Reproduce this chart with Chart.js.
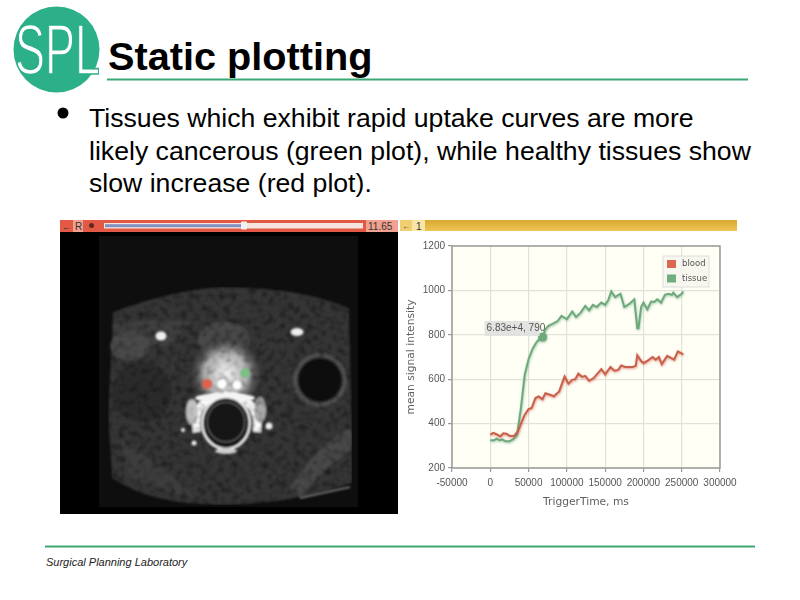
<!DOCTYPE html>
<html>
<head>
<meta charset="utf-8">
<title>Static plotting</title>
<script src="https://cdn.jsdelivr.net/npm/chart.js@4"></script>
<style>
html, body { margin: 0; padding: 0; background: #fff; }
body { position: relative; width: 800px; height: 600px; overflow: hidden; font-family: "Liberation Sans", Arial, sans-serif; color: #000; }
#art { position: absolute; left: 0; top: 0; }
.title { position: absolute; left: 108px; top: 34px; font-size: 39.7px; font-weight: bold; line-height: 44px; white-space: nowrap; }
.bullet { position: absolute; left: 89px; top: 102px; font-size: 26.65px; line-height: 32.5px; white-space: nowrap; }
.footer { position: absolute; left: 46px; top: 556px; font-size: 11px; font-style: italic; white-space: nowrap; color: #222; }
#chartBox { position: absolute; left: 400px; top: 235px; width: 345px; height: 280px; filter: blur(0.35px); }
</style>
</head>
<body>
<svg id="art" width="800" height="600" viewBox="0 0 800 600">
  <defs>
    <filter id="soft"><feGaussianBlur stdDeviation="0.9"/></filter>
    <filter id="softer"><feGaussianBlur stdDeviation="3.5"/></filter>
    <filter id="mottled" x="0" y="0" width="100%" height="100%">
      <feTurbulence type="fractalNoise" baseFrequency="0.16" numOctaves="3" seed="7" result="n"/>
      <feColorMatrix in="n" type="matrix" values="1.7 0 0 0 0.05  1.7 0 0 0 0.05  1.7 0 0 0 0.05  0 0 0 0 1" result="g"/>
      <feComposite in="SourceGraphic" in2="g" operator="arithmetic" k1="1" k2="0" k3="0" k4="0" result="c"/>
      <feComposite in="c" in2="SourceAlpha" operator="in" result="m"/>
      <feGaussianBlur in="m" stdDeviation="1.1"/>
    </filter>
    <radialGradient id="glow">
      <stop offset="0" stop-color="#f4f4f4"/>
      <stop offset="0.6" stop-color="#b0b0b0"/>
      <stop offset="1" stop-color="#3a3a3a" stop-opacity="0.2"/>
    </radialGradient>
    <linearGradient id="gold" x1="0" y1="0" x2="0" y2="1">
      <stop offset="0" stop-color="#d9a92f"/>
      <stop offset="1" stop-color="#eec558"/>
    </linearGradient>
  </defs>
  <!-- logo -->
  <circle cx="56.5" cy="49.5" r="43" fill="#2bb08a"/>
  <text x="15" y="74" font-family="Liberation Sans" font-size="71" fill="#fff" stroke="#2bb08a" stroke-width="1.6" textLength="85" lengthAdjust="spacingAndGlyphs">SPL</text>
  <rect x="107" y="78.5" width="641" height="2" fill="#3aa873"/>
  <circle cx="63" cy="113" r="5.5" fill="#000"/>
  <rect x="45" y="545.5" width="710" height="2" fill="#3aa873"/>

  <!-- image viewer -->
  <rect x="60" y="220" width="338" height="12" fill="#e25a45"/>
  <rect x="60" y="232" width="338" height="282" fill="#000"/>
  <rect x="366" y="220" width="32" height="12" fill="#f2a08f"/>
  <text x="368" y="229.8" font-family="Liberation Sans" font-size="10" fill="#333">11.65</text>
  <text x="62" y="229.5" font-family="Liberation Sans" font-size="9" fill="#333">←</text>
  <rect x="73" y="220" width="10" height="12" fill="#f2a08f"/>
  <text x="75" y="229.8" font-family="Liberation Sans" font-size="10" fill="#333">R</text>
  <circle cx="91.5" cy="225.5" r="2.5" fill="#5c2a20"/>
  <rect x="104" y="223" width="259" height="5.5" fill="#f6e4df"/>
  <rect x="105" y="224.2" width="139" height="3" fill="#7f8fc0"/>
  <rect x="241" y="221.5" width="6" height="8" rx="1" fill="#f1f1f1"/>

  <rect x="99" y="236" width="259" height="271" fill="#0e0e0e"/>
  <g filter="url(#mottled)">
    <path d="M113 312 Q170 290 222 287 Q300 287 349 308 L352 428 L352 483 Q290 505 222 505 Q150 505 112 478 L108 415 Z" fill="#343434"/>
    <path d="M112 325 Q150 318 190 322 L170 345 L120 350 Z" fill="#404040"/>
    <circle cx="142" cy="392" r="30" fill="#2c2c2c"/>
    <ellipse cx="130" cy="346" rx="20" ry="14" fill="#4a4a4a"/>
    <circle cx="320" cy="380" r="27" fill="#505050"/>
    <path d="M290 488 Q320 440 352 428 L352 450 Q320 470 300 498 Z" fill="#484848"/>
    <path d="M120 440 Q170 470 198 500 L130 478 Z" fill="#3e3e3e"/>
    <ellipse cx="224" cy="340" rx="26" ry="18" fill="#484848"/>
    <ellipse cx="226" cy="374" rx="36" ry="36" fill="url(#glow)"/>
    <path d="M197 432 Q191 398 226 396 Q261 398 257 432" fill="none" stroke="#ffffff" stroke-width="8"/>
    <ellipse cx="192" cy="412" rx="6" ry="13" fill="#c4c4c4"/>
    <ellipse cx="260" cy="410" rx="6" ry="13" fill="#aaa"/>
  </g>
  <circle cx="320" cy="380" r="22" fill="#0c0c0c" filter="url(#soft)"/>
  <path d="M300 498 L350 487" stroke="#8a8a8a" stroke-width="1.5" filter="url(#soft)"/>
  <g filter="url(#soft)">
    <ellipse cx="225" cy="398" rx="30" ry="5" fill="#f4f4f4"/>
    <circle cx="222" cy="384" r="4.5" fill="#fff"/>
    <circle cx="237" cy="385" r="4.5" fill="#fff"/>
    <ellipse cx="226" cy="423" rx="24" ry="26" fill="#0f0f0f" stroke="#f6f6f6" stroke-width="2.5"/>
    <ellipse cx="226" cy="422" rx="19" ry="20" fill="#141414" stroke="#5c5c5c" stroke-width="1.5"/>
    <ellipse cx="226" cy="451" rx="11" ry="3" fill="#cfcfcf"/>
    <ellipse cx="161" cy="336" rx="5.5" ry="4.5" fill="#eee"/>
    <ellipse cx="297" cy="332" rx="6.5" ry="4" fill="#eee"/>
    <circle cx="269" cy="426" r="3.5" fill="#eee"/>
    <circle cx="183" cy="430" r="2" fill="#eee"/>
    <circle cx="194" cy="443" r="2.5" fill="#eee"/>
    <circle cx="207" cy="384" r="5" fill="#e0604a"/>
    <circle cx="245" cy="373" r="5" fill="#7cbf84"/>
  </g>

  <!-- chart panel header -->
  <rect x="400" y="220" width="337" height="11" fill="url(#gold)"/>
  <rect x="400" y="220" width="12" height="11" fill="#f0cf72"/>
  <rect x="412" y="220" width="13" height="11" fill="#f9e6a6"/>
  <text x="402" y="229" font-family="Liberation Sans" font-size="8" fill="#333">←</text>
  <text x="416" y="229.5" font-family="Liberation Sans" font-size="10" fill="#333">1</text>
</svg>

<div class="title">Static plotting</div>
<div class="bullet">Tissues which exhibit rapid uptake curves are more<br>likely cancerous (green plot), while healthy tissues show<br>slow increase (red plot).</div>
<div class="footer">Surgical Planning Laboratory</div>
<div id="chartBox"><canvas id="chart" width="345" height="280"></canvas></div>

<script>
// Values
const tissueTimes = [0, 5000, 8000, 12000, 16000, 20000, 25000, 30000, 35000, 40000, 45000, 50000, 55000, 60000, 65000, 68300, 72000, 76000, 82000, 88000, 93000, 100000, 107000, 112000, 118000, 124000, 129000, 134000, 139000, 145000, 150000, 154000, 158000, 163000, 170000, 175000, 182000, 188000, 192000, 193500, 197000, 200000, 205000, 210000, 214000, 218000, 223000, 228000, 233000, 237000, 239000, 244000, 250000, 252000];
const tissueValues = [325, 325, 332, 325, 328, 320, 320, 330, 350, 470, 620, 690, 735, 765, 785, 790, 825, 840, 850, 862, 885, 870, 905, 880, 900, 930, 910, 935, 925, 945, 935, 955, 995, 970, 985, 925, 940, 960, 830, 830, 925, 945, 915, 950, 948, 960, 945, 980, 985, 980, 990, 970, 985, 995];
const bloodTimes = [0, 4000, 8000, 13000, 17000, 21000, 26000, 31000, 36000, 40000, 45000, 50000, 54000, 59000, 63000, 68000, 72000, 78000, 83000, 90000, 97000, 102000, 107000, 111000, 115000, 120000, 124000, 129000, 135000, 140000, 145000, 150000, 157000, 162000, 167000, 171000, 176000, 186000, 190000, 192000, 197000, 200000, 206000, 212000, 216000, 220000, 224000, 231000, 240000, 245000, 252000];
const bloodValues = [350, 358, 352, 342, 356, 354, 344, 345, 365, 400, 440, 465, 470, 515, 522, 510, 537, 530, 523, 545, 612, 580, 597, 600, 625, 610, 615, 593, 605, 625, 645, 622, 655, 638, 642, 662, 655, 655, 660, 708, 682, 672, 685, 700, 688, 700, 668, 705, 688, 725, 712];
const seriesNames = ['blood', 'tissue'];
const seriesColors = ['#c9604c', '#6ea97c'];
const legendSwatches = ['#dd6650', '#6fae80'];
const hoverTime = 68300;
const hoverValue = 790;
const hoverLabel = '6.83e+4, 790';
const xAxisTitle = 'TriggerTime, ms';
const yAxisTitle = 'mean signal intensity';

const CHART_FONT = '"DejaVu Sans", sans-serif';
const TICK_FONT = '"Liberation Sans Narrow", "Liberation Sans", sans-serif';
const PLOT_LEFT = 52;
const PLOT_BOTTOM_SPACE = 47;

function toPoints(times, values) {
    return times.map((t, i) => ({ x: t, y: values[i] }));
}

// Plot background and thick frame, flot style
const framePlugin = {
    id: 'frame',
    beforeDraw(chart) {
        const a = chart.chartArea;
        chart.ctx.fillStyle = '#fffff6';
        chart.ctx.fillRect(a.left, a.top, a.width, a.height);
    },
    afterDatasetsDraw(chart) {
        const a = chart.chartArea;
        const ctx = chart.ctx;
        ctx.save();
        ctx.strokeStyle = '#9b9b9b';
        ctx.lineWidth = 1.5;
        ctx.strokeRect(a.left, a.top, a.width, a.height);
        ctx.restore();
    }
};

// Soft halo under each line, in the line's colour
const shadowPlugin = {
    id: 'lineShadow',
    beforeDatasetDraw(chart, args) {
        const ctx = chart.ctx;
        ctx.save();
        ctx.shadowColor = seriesColors[args.index] + 'aa';
        ctx.shadowBlur = 2.5;
        ctx.shadowOffsetX = 0.5;
        ctx.shadowOffsetY = 1;
    },
    afterDatasetDraw(chart) {
        chart.ctx.restore();
    }
};

// Hover label and legend box inside the plot
const overlayPlugin = {
    id: 'overlay',
    afterDraw(chart) {
        const ctx = chart.ctx;
        const a = chart.chartArea;
        const px = chart.scales.x.getPixelForValue(hoverTime);
        const py = chart.scales.y.getPixelForValue(hoverValue);

        ctx.save();
        ctx.textBaseline = 'middle';

        // hover label
        ctx.font = '10px ' + TICK_FONT;
        ctx.fillStyle = 'rgba(225, 225, 222, 0.92)';
        ctx.fillRect(px - 58, py - 16, 55, 15);
        ctx.fillStyle = '#555';
        ctx.textAlign = 'left';
        ctx.fillText(hoverLabel, px - 56, py - 8.5);

        // legend
        ctx.font = '8.5px ' + CHART_FONT;
        const boxX = a.right - 57;
        const boxY = a.top + 10;
        ctx.fillStyle = 'rgba(246, 246, 240, 0.9)';
        ctx.fillRect(boxX, boxY, 46, 31);
        ctx.strokeStyle = '#ddd';
        ctx.strokeRect(boxX, boxY, 46, 31);
        seriesNames.forEach((name, i) => {
            const y = boxY + 8 + i * 14.5;
            ctx.fillStyle = legendSwatches[i];
            ctx.fillRect(boxX + 4, y - 4, 9, 8);
            ctx.fillStyle = '#555';
            ctx.fillText(name, boxX + 19, y);
        });
        ctx.restore();
    }
};

const gridStyle = { color: '#e2e2d8', lineWidth: 1.2, tickLength: 4, tickColor: '#999' };

new Chart(document.getElementById('chart'), {
    type: 'line',
    data: {
        datasets: [
            {
                label: seriesNames[0],
                data: toPoints(bloodTimes, bloodValues),
                borderColor: seriesColors[0],
                borderWidth: 2,
                pointRadius: 0,
                tension: 0
            },
            {
                label: seriesNames[1],
                data: toPoints(tissueTimes, tissueValues),
                borderColor: seriesColors[1],
                backgroundColor: seriesColors[1],
                borderWidth: 2,
                pointRadius: tissueTimes.map(t => (t === hoverTime ? 4.5 : 0)),
                pointBorderWidth: 0,
                tension: 0
            }
        ]
    },
    options: {
        responsive: false,
        animation: false,
        devicePixelRatio: 1,
        layout: { padding: { top: 11, right: 25, bottom: 0, left: 0 } },
        plugins: {
            legend: { display: false },
            tooltip: { enabled: false }
        },
        scales: {
            x: {
                type: 'linear',
                min: -50000,
                max: 300000,
                afterFit(scale) { scale.height = PLOT_BOTTOM_SPACE; },
                grid: gridStyle,
                border: { display: false },
                ticks: {
                    stepSize: 50000,
                    maxRotation: 0,
                    padding: 5,
                    color: '#555',
                    font: { family: TICK_FONT, size: 10 },
                    callback: v => String(v)
                },
                title: {
                    display: true,
                    text: xAxisTitle,
                    color: '#5f5f5f',
                    padding: { top: 0, bottom: 6 },
                    font: { family: CHART_FONT, size: 10.7 }
                }
            },
            y: {
                min: 200,
                max: 1200,
                afterFit(scale) { scale.width = PLOT_LEFT; },
                grid: gridStyle,
                border: { display: false },
                ticks: {
                    stepSize: 200,
                    padding: 3,
                    color: '#555',
                    font: { family: TICK_FONT, size: 10 },
                    callback: v => String(v)
                },
                title: {
                    display: true,
                    text: yAxisTitle,
                    color: '#5f5f5f',
                    padding: { top: 5, bottom: 0 },
                    font: { family: CHART_FONT, size: 10.7 }
                }
            }
        }
    },
    plugins: [framePlugin, shadowPlugin, overlayPlugin]
});
</script>
</body>
</html>
